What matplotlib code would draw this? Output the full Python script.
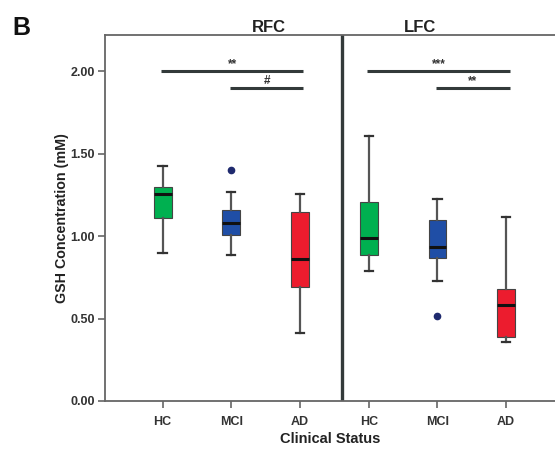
import matplotlib
matplotlib.use("Agg")
import matplotlib.pyplot as plt

plt.rcParams['font.family'] = ['Liberation Sans', 'DejaVu Sans']

# Box-plot summaries per region and clinical group (GSH, mM)
groups = ["HC", "MCI", "AD"]
regions = ["RFC", "LFC"]
colors = ["#00b050", "#1f4ea6", "#ec1c2e"]

rfc_whislo = [0.90, 0.885, 0.415]
rfc_q1 = [1.11, 1.005, 0.69]
rfc_med = [1.255, 1.08, 0.86]
rfc_q3 = [1.30, 1.16, 1.145]
rfc_whishi = [1.425, 1.265, 1.255]
rfc_fliers = [[], [1.40], []]

lfc_whislo = [0.79, 0.725, 0.36]
lfc_q1 = [0.885, 0.87, 0.39]
lfc_med = [0.99, 0.935, 0.585]
lfc_q3 = [1.205, 1.095, 0.68]
lfc_whishi = [1.605, 1.225, 1.115]
lfc_fliers = [[], [0.515], []]

# Significance brackets: (region index, from group, to group, height, label)
sig_bars = [
    (0, 0, 2, 2.00, "**"),
    (0, 1, 2, 1.90, "#"),
    (1, 0, 2, 2.00, "***"),
    (1, 1, 2, 1.90, "**"),
]

fig = plt.figure(figsize=(5.55, 4.49), dpi=100)
ax = fig.add_axes([0.189, 0.107, 0.811, 0.815])

stats = []
for lo, a, m, b, hi, fl in zip(rfc_whislo + lfc_whislo, rfc_q1 + lfc_q1,
                               rfc_med + lfc_med, rfc_q3 + lfc_q3,
                               rfc_whishi + lfc_whishi, rfc_fliers + lfc_fliers):
    stats.append(dict(whislo=lo, q1=a, med=m, q3=b, whishi=hi, fliers=fl))

positions = list(range(1, 7))
bp = ax.bxp(stats, positions=positions, widths=0.26, patch_artist=True,
            showfliers=True,
            boxprops=dict(edgecolor="#444444", linewidth=0.8),
            medianprops=dict(color="#111111", linewidth=2.2),
            whiskerprops=dict(color="#555555", linewidth=1.6),
            capprops=dict(color="#333333", linewidth=1.6),
            capwidths=0.12,
            flierprops=dict(marker="o", markerfacecolor="#1f2a6e",
                            markeredgecolor="#1f2a6e", markersize=4.5))
for i, box in enumerate(bp["boxes"]):
    box.set_facecolor(colors[i % 3])

ax.set_xlim(0.16, 6.71)
ax.set_ylim(0, 2.22)

# Panel divider and frame
sep_x = 3.605
ax.axvline(sep_x, color="#333a3a", linewidth=2.4)
ax.spines["right"].set_visible(False)
for s in ["left", "bottom", "top"]:
    ax.spines[s].set_color("#666666")
    ax.spines[s].set_linewidth(1.3)

ax.set_yticks([0, 0.5, 1.0, 1.5, 2.0])
ax.set_yticklabels(["0.00", "0.50", "1.00", "1.50", "2.00"],
                   fontsize=9, fontweight="bold", color="#333333")
ax.set_xticks(positions)
ax.set_xticklabels(groups * 2, fontsize=9, fontweight="bold", color="#333333")
ax.tick_params(axis="both", direction="out", length=5, width=1.2,
               color="#666666", pad=2)
ax.tick_params(axis="x", pad=6)

ax.set_ylabel("GSH Concentration (mM)", fontsize=10.3, fontweight="bold",
              color="#222222", labelpad=1)
ax.set_xlabel("Clinical Status", fontsize=10.5, fontweight="bold",
              color="#222222", labelpad=3)

for r, g0, g1, h, lab in sig_bars:
    x0 = positions[r * 3 + g0] - 0.02
    x1 = positions[r * 3 + g1] + 0.05
    ax.plot([x0, x1], [h, h], color="#333a3a", linewidth=2.2,
            solid_capstyle="butt")
    ax.text((x0 + x1) / 2, h + 0.005, lab, ha="center", va="bottom",
            fontsize=8.5, fontweight="bold", color="#333333")

# Region titles above the frame
ax.text(2.55, 2.222, regions[0], ha="center", va="bottom", fontsize=12,
        fontweight="bold", color="#222222")
ax.text(4.75, 2.222, regions[1], ha="center", va="bottom", fontsize=12,
        fontweight="bold", color="#222222")

fig.text(0.022, 0.938, "B", fontsize=18, fontweight="bold", color="#111111",
         ha="left", va="center")

fig.savefig("out.png", dpi=100)
